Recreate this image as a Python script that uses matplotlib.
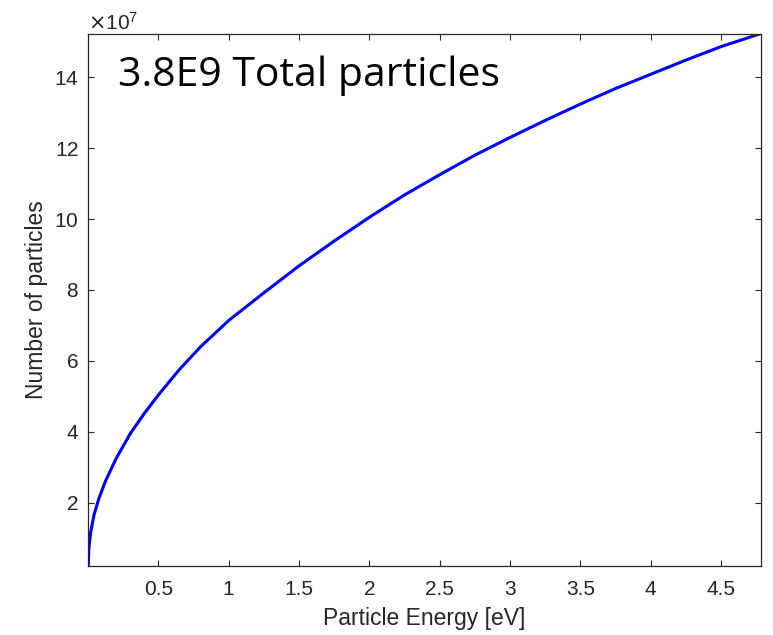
import numpy as np
import matplotlib
matplotlib.use("Agg")
import matplotlib.pyplot as plt
from matplotlib.ticker import FuncFormatter

# Energy spectrum: particle count per energy (counts in units of 1e7)
energy_ev = [0.002, 0.006, 0.018, 0.042, 0.077, 0.125, 0.2, 0.3, 0.4, 0.5,
             0.65, 0.8, 1.0, 1.25, 1.5, 1.75, 2.0, 2.25, 2.5, 2.75, 3.0,
             3.25, 3.5, 3.75, 4.0, 4.25, 4.5, 4.784]
counts_e7 = [0.23, 0.70, 1.15, 1.65, 2.12, 2.62, 3.25, 3.95, 4.52, 5.04,
             5.76, 6.40, 7.14, 7.92, 8.68, 9.38, 10.05, 10.68, 11.25, 11.80, 12.30,
             12.78, 13.24, 13.68, 14.08, 14.48, 14.86, 15.23]

x_ticks = [0.5, 1, 1.5, 2, 2.5, 3, 3.5, 4, 4.5]
y_ticks_e7 = [2, 4, 6, 8, 10, 12, 14]

annotation = "3.8E9 Total particles"

W, H = 773, 635
fig = plt.figure(figsize=(W / 100, H / 100), dpi=100)
ax = fig.add_axes([88 / W, 1 - 566 / H, (761 - 88) / W, (566 - 33.5) / H])

axis_grey = "#262626"
sans = ["Liberation Sans", "DejaVu Sans"]

counts = np.array(counts_e7) * 1e7
ax.plot(energy_ev, counts, color=(0, 0, 1), linewidth=2.2, solid_capstyle="round")

ax.set_xlim(energy_ev[0] - 0.002, energy_ev[-1])
ax.set_ylim(counts[0] - 0.01e7, counts[-1])

ax.set_xticks(x_ticks)
ax.set_yticks(np.array(y_ticks_e7) * 1e7)
ax.xaxis.set_major_formatter(FuncFormatter(lambda v, p: f"{v:g}"))
ax.ticklabel_format(axis="y", style="sci", scilimits=(7, 7), useMathText=True)

for s in ax.spines.values():
    s.set_color(axis_grey)
    s.set_linewidth(0.9)
ax.tick_params(direction="in", length=4, width=0.8, color=axis_grey,
               labelcolor=axis_grey, labelsize=15, top=True, right=True)
ax.tick_params(axis="x", pad=10)
ax.tick_params(axis="y", pad=6.5)
for lbl in ax.get_xticklabels() + ax.get_yticklabels():
    lbl.set_family(sans)

off = ax.yaxis.get_offset_text()
off.set_fontsize(15)
off.set_color(axis_grey)
off.set_family(sans)

ax.set_xlabel("Particle Energy [eV]", fontsize=16.5, color=axis_grey,
              family=sans, labelpad=6)
ax.set_ylabel("Number of particles", fontsize=16.5, color=axis_grey,
              family=sans, labelpad=4.5)

fig.text(118 / W, 1 - 86 / H, annotation, fontsize=29.5, color="black",
         family=["Open Sans", "DejaVu Sans"], ha="left", va="baseline")

fig.savefig("out.png", dpi=100, facecolor="white")
